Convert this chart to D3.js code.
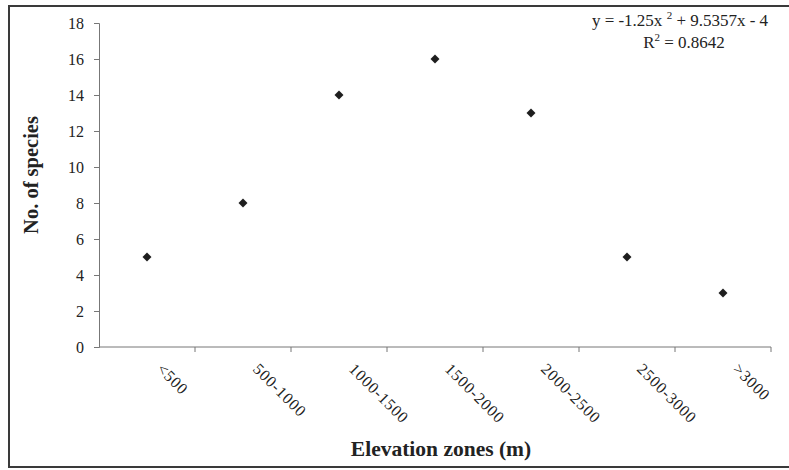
<!DOCTYPE html>
<html><head><meta charset="utf-8">
<script src="https://cdn.jsdelivr.net/npm/d3@7/dist/d3.min.js"></script>
<style>
body{margin:0;background:#fff;}
svg{display:block;}
text{font-family:"Liberation Serif","Times New Roman",serif;fill:#222;}
</style></head>
<body>
<script>
const categories = ["<500","500-1000","1000-1500","1500-2000","2000-2500","2500-3000",">3000"];
const species = [5, 8, 14, 16, 13, 5, 3];
const yTicks = [0,2,4,6,8,10,12,14,16,18];
const equationText = "y = -1.25x";
const equationRest = " + 9.5357x - 4";
const r2Text = "0.8642";

const W = 789, H = 470;
const svg = d3.select("body").append("svg").attr("width", W).attr("height", H);

// outer frame
svg.append("rect").attr("x", 9).attr("y", 6).attr("width", 800).attr("height", 461)
  .attr("fill", "none").attr("stroke", "#3a3a3a").attr("stroke-width", 2);

const m = {left: 99, right: 771, top: 23, bottom: 347};
const x = d3.scaleBand().domain(categories).range([m.left, m.right]).padding(0);
const y = d3.scaleLinear().domain([0, 18]).range([m.bottom, m.top]);

// y axis
const yAxis = svg.append("g").attr("transform", `translate(${m.left},0)`)
  .call(d3.axisLeft(y).tickValues(yTicks).tickSize(5).tickPadding(10).tickFormat(d3.format("d")));
yAxis.selectAll("text").style("font-size", "16px").attr("fill", "#222");
yAxis.selectAll("line,path").attr("stroke", "#777");

// x axis with ticks between categories
const xAxisG = svg.append("g").attr("transform", `translate(0,${m.bottom})`);
xAxisG.append("line").attr("x1", m.left).attr("x2", m.right).attr("y1", 0).attr("y2", 0).attr("stroke", "#777");
const tickPos = categories.map(c => x(c) + x.bandwidth());
xAxisG.selectAll("line.tk").data(tickPos).enter().append("line").attr("class","tk")
  .attr("x1", d => d).attr("x2", d => d).attr("y1", 0).attr("y2", 5).attr("stroke", "#777");
xAxisG.selectAll("text.lbl").data(categories).enter().append("text").attr("class","lbl")
  .attr("transform", d => `translate(${x(d) + x.bandwidth()/2 + 9},${23}) rotate(45)`)
  .attr("text-anchor", "start").style("font-size", "16px").style("letter-spacing", "0.8px")
  .text(d => d);

// points
const diamond = d3.symbol().type(d3.symbolDiamond).size(24);
svg.selectAll("path.pt").data(categories).enter().append("path").attr("class","pt")
  .attr("d", diamond)
  .attr("transform", (c, i) => `translate(${x(c) + x.bandwidth()/2},${y(species[i])}) scale(1.7,1)`)
  .attr("fill", "#1e1e1e");

// axis titles
svg.append("text").attr("transform", `translate(38,175) rotate(-90)`).attr("text-anchor", "middle")
  .style("font-size", "20.5px").style("font-weight", "bold").text("No. of species");
svg.append("text").attr("x", 441).attr("y", 456).attr("text-anchor", "middle")
  .style("font-size", "21.5px").style("font-weight", "bold").text("Elevation zones (m)");

// trendline equation
const eq = svg.append("text").attr("x", 680).attr("y", 26).attr("text-anchor", "middle").style("font-size", "17px");
eq.append("tspan").text(equationText + " ");
eq.append("tspan").attr("dy", -7).style("font-size", "11px").text("2");
eq.append("tspan").attr("dy", 7).text(equationRest);
const r2 = svg.append("text").attr("x", 684).attr("y", 48).attr("text-anchor", "middle").style("font-size", "17px");
r2.append("tspan").text("R");
r2.append("tspan").attr("dy", -7).style("font-size", "11px").text("2");
r2.append("tspan").attr("dy", 7).text(" = " + r2Text);
</script>
</body></html>
